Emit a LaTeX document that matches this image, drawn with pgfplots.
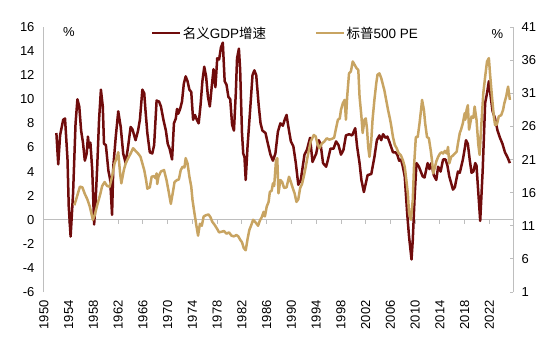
\documentclass[border=0pt]{standalone}
\usepackage{fontspec}
\setmainfont{Liberation Sans}
\newfontfamily\cjk{Noto Sans CJK SC}
\usepackage{pgfplots}
\usepackage{pgfplotstable}
\pgfplotsset{compat=1.18}
\definecolor{gdpc}{RGB}{112,12,12}
\definecolor{pec}{RGB}{200,164,98}
\definecolor{axisgray}{RGB}{190,190,190}

\pgfplotstableread{
year val
1952.0 7.2
1952.3 4.6
1952.6 7.0
1953.1 8.3
1953.4 8.4
1953.8 5.0
1954.0 1.1
1954.3 -1.4
1954.7 2.2
1955.1 8.0
1955.4 10.0
1955.7 9.4
1956.0 7.4
1956.3 6.4
1956.6 4.9
1956.9 5.5
1957.1 6.9
1957.3 6.0
1957.5 6.4
1957.8 4.1
1958.1 -0.4
1958.3 1.1
1958.6 4.4
1958.9 8.3
1959.2 10.8
1959.5 9.4
1959.7 6.3
1960.0 6.2
1960.4 4.1
1960.7 3.3
1961.0 0.4
1961.2 4.4
1961.6 6.9
1962.0 9.0
1962.4 7.7
1962.8 5.5
1963.2 4.7
1963.6 6.1
1964.0 7.7
1964.3 7.5
1964.8 6.6
1965.2 7.4
1965.5 8.3
1965.9 10.8
1966.2 10.5
1966.4 9.1
1966.7 7.2
1967.1 5.6
1967.5 5.5
1967.8 6.2
1968.2 9.9
1968.6 9.8
1968.9 9.4
1969.3 8.3
1969.7 7.4
1970.0 6.3
1970.3 5.9
1970.7 5.0
1971.0 8.0
1971.3 8.4
1971.5 9.2
1971.7 8.8
1972.0 9.2
1972.3 9.8
1972.6 11.3
1972.9 11.9
1973.2 11.5
1973.5 10.8
1973.8 10.6
1974.1 8.3
1974.4 8.7
1974.7 8.3
1975.0 8.0
1975.3 9.5
1975.6 11.5
1975.9 12.7
1976.2 11.9
1976.5 10.2
1976.8 9.4
1977.1 11.0
1977.4 12.5
1977.7 11.0
1978.0 13.4
1978.3 13.3
1978.6 14.3
1978.9 14.7
1979.2 11.5
1979.5 11.2
1979.8 10.2
1980.1 10.0
1980.4 7.9
1980.7 7.4
1981.0 10.5
1981.2 13.4
1981.5 14.2
1981.7 12.5
1982.0 7.2
1982.2 5.5
1982.4 5.2
1982.6 3.3
1982.9 6.1
1983.3 9.0
1983.7 12.0
1984.0 12.4
1984.3 12.0
1984.7 9.5
1985.0 8.0
1985.3 7.4
1985.8 7.2
1986.1 6.5
1986.6 5.4
1987.0 4.9
1987.4 5.5
1987.8 7.3
1988.2 8.0
1988.6 7.8
1988.9 8.3
1989.2 8.7
1989.5 7.7
1989.9 6.5
1990.3 6.1
1990.7 4.7
1991.1 2.9
1991.5 3.3
1992.1 5.4
1992.5 5.8
1993.0 6.8
1993.4 4.8
1994.0 5.5
1994.4 6.6
1994.7 6.3
1995.1 4.7
1995.6 4.4
1995.9 5.0
1996.3 5.9
1996.8 5.9
1997.2 6.5
1997.6 6.2
1998.0 5.4
1998.4 5.8
1998.8 7.0
1999.3 7.1
1999.8 7.0
2000.3 7.6
2000.6 6.1
2001.0 4.7
2001.3 3.3
2001.7 2.3
2002.0 3.0
2002.3 3.7
2002.9 3.8
2003.4 5.2
2003.8 6.6
2004.2 7.0
2004.5 6.6
2004.8 7.1
2005.2 6.8
2005.5 6.9
2005.8 6.5
2006.4 5.6
2006.8 5.6
2007.1 5.4
2007.4 4.9
2007.7 5.0
2008.0 4.4
2008.3 3.6
2008.7 0.5
2009.0 -1.4
2009.4 -3.3
2009.6 -1.7
2009.9 1.9
2010.2 4.7
2010.6 4.4
2011.2 3.6
2011.5 3.5
2012.0 4.7
2012.3 4.2
2012.6 4.7
2013.0 3.7
2013.4 3.3
2013.7 4.4
2014.1 4.0
2014.5 5.0
2014.9 5.0
2015.2 4.5
2015.5 3.6
2016.1 2.5
2016.4 2.7
2016.9 4.0
2017.2 3.9
2017.7 5.0
2018.0 5.9
2018.2 6.6
2018.5 6.3
2018.8 5.0
2019.1 3.9
2019.4 4.0
2019.7 4.7
2019.9 4.5
2020.2 2.2
2020.5 -0.1
2020.9 4.1
2021.3 9.7
2021.6 10.5
2021.9 11.5
2022.2 10.2
2022.5 9.0
2022.9 8.4
2023.3 7.4
2023.7 6.8
2024.1 6.3
2024.5 5.6
2024.9 5.2
2025.3 4.7
}\gdpdata

\pgfplotstableread{
year val
1954.9 14.1
1955.3 15.3
1955.8 16.9
1956.2 16.8
1956.6 15.8
1957.0 15.0
1957.4 13.9
1957.9 11.9
1958.2 12.6
1958.6 14.1
1959.1 15.8
1959.4 17.0
1959.8 17.6
1960.2 17.0
1960.6 16.9
1961.0 18.4
1961.4 20.4
1961.8 21.4
1962.0 22.1
1962.3 18.9
1962.5 17.4
1962.9 19.4
1963.2 20.4
1963.6 21.2
1964.0 21.9
1964.4 22.7
1964.8 22.3
1965.3 21.8
1965.6 21.4
1965.9 20.4
1966.2 19.4
1966.5 17.9
1966.7 16.6
1967.1 16.8
1967.4 18.4
1967.8 18.5
1968.0 18.2
1968.2 18.9
1968.3 17.3
1968.5 18.4
1968.9 19.2
1969.4 19.4
1969.8 17.9
1970.1 16.4
1970.5 14.3
1970.8 15.9
1971.1 17.6
1971.5 17.9
1971.8 18.0
1972.1 19.4
1972.4 19.9
1972.7 19.8
1972.9 21.2
1973.2 20.4
1973.5 18.4
1973.8 16.9
1974.0 14.9
1974.3 13.0
1974.6 11.2
1974.9 9.5
1975.2 11.3
1975.5 11.0
1975.8 12.4
1976.2 12.6
1976.6 12.7
1976.9 12.3
1977.2 11.6
1977.6 11.1
1978.0 10.5
1978.3 10.0
1978.7 10.1
1979.1 10.2
1979.5 9.8
1979.9 10.0
1980.3 9.5
1980.7 9.4
1981.1 9.6
1981.4 9.4
1981.7 8.9
1982.0 8.5
1982.3 7.6
1982.6 7.3
1982.9 9.0
1983.2 10.4
1983.5 11.1
1983.8 11.9
1984.2 11.5
1984.6 11.0
1984.9 11.8
1985.2 12.3
1985.5 13.1
1985.7 12.4
1986.0 13.9
1986.3 14.6
1986.5 16.1
1986.8 16.3
1987.0 17.4
1987.2 17.0
1987.5 20.9
1987.7 21.2
1987.9 15.9
1988.2 17.9
1988.5 17.6
1988.8 16.7
1989.2 16.8
1989.6 18.4
1989.9 17.6
1990.2 16.7
1990.5 15.9
1990.8 14.6
1991.1 15.0
1991.4 16.7
1991.7 17.3
1992.0 18.5
1992.3 19.9
1992.7 21.9
1993.1 23.7
1993.6 24.7
1993.9 24.5
1994.2 23.4
1994.5 22.7
1994.9 23.4
1995.3 23.7
1995.7 24.2
1996.1 24.0
1996.5 24.1
1996.9 24.3
1997.2 25.7
1997.5 27.0
1997.8 27.2
1998.0 28.5
1998.3 29.5
1998.6 30.0
1998.8 27.0
1999.0 30.5
1999.3 34.0
1999.6 34.3
1999.9 35.8
2000.2 35.3
2000.5 34.8
2000.8 34.5
2001.0 30.5
2001.3 27.5
2001.5 25.0
2001.8 27.0
2002.0 27.2
2002.2 25.7
2002.4 22.9
2002.6 21.4
2002.9 23.9
2003.1 27.0
2003.4 30.0
2003.7 32.5
2003.9 33.8
2004.2 34.0
2004.5 33.3
2004.8 32.2
2005.0 31.5
2005.3 30.0
2005.6 28.5
2005.9 27.2
2006.1 26.2
2006.4 24.4
2006.7 23.2
2007.0 22.7
2007.3 22.0
2007.7 21.6
2008.0 20.9
2008.3 19.9
2008.5 18.4
2008.8 15.9
2009.0 12.9
2009.3 11.9
2009.6 14.9
2009.8 19.9
2010.1 24.4
2010.4 24.4
2010.7 26.5
2011.0 29.0
2011.1 30.0
2011.4 28.5
2011.6 26.5
2011.9 24.4
2012.2 24.2
2012.5 22.4
2012.7 20.9
2012.9 18.9
2013.2 19.9
2013.4 20.7
2013.7 21.4
2014.0 21.9
2014.3 22.1
2014.5 21.9
2014.8 22.3
2015.1 21.9
2015.3 22.9
2015.5 20.4
2015.8 21.4
2016.1 21.6
2016.4 21.9
2016.7 22.2
2016.9 23.4
2017.2 25.0
2017.4 25.5
2017.7 26.5
2018.0 28.0
2018.1 27.0
2018.3 28.5
2018.5 29.2
2018.7 25.5
2018.9 26.5
2019.1 27.5
2019.4 27.3
2019.6 29.0
2019.9 27.0
2020.2 23.2
2020.4 21.7
2020.7 26.5
2021.0 31.0
2021.3 33.5
2021.6 35.8
2021.9 36.3
2022.1 33.8
2022.4 30.5
2022.7 27.5
2022.9 26.2
2023.2 26.3
2023.5 27.5
2023.9 27.7
2024.2 28.5
2024.4 29.5
2024.7 30.5
2025.0 32.0
2025.3 30.0
}\pedata

\begin{document}
\begin{tikzpicture}
\pgfplotsset{
  base/.style={
    scale only axis, width=469bp, height=265bp,
    at={(0,0)}, anchor=south west,
    xmin=1950, xmax=2025.8,
    font=\fontsize{13bp}{15bp}\selectfont,
    /pgf/number format/assume math mode=true,
    /pgf/number format/1000 sep={},
  },
  gdp/.style={color=gdpc, line width=2.5bp, line join=round},
  pe/.style={color=pec, line width=2.5bp, line join=round},
}
% zero line with ticks
\begin{axis}[base, ymin=-6, ymax=16,
  axis x line*=middle, hide y axis,
  xtick={1954,1958,...,2022}, xticklabels={},
  tick align=outside, major tick length=4bp,
  x axis line style={draw=axisgray, line width=1bp},
  xtick style={draw=axisgray, line width=1bp}]
\end{axis}
% left axis with GDP
\begin{axis}[base, ymin=-6, ymax=16,
  ytick={-6,-4,...,16},
  axis y line*=left, axis x line*=bottom,
  x axis line style={draw=none},
  y axis line style={draw=axisgray, line width=1bp},
  xtick={1950,1954,...,2022},
  major tick length=0pt,
  xtick style={draw=none}, ytick style={draw=none},
  xticklabel style={rotate=90, anchor=east, yshift=0bp, xshift=-5bp},
  yticklabel style={xshift=-6bp},
  clip=true]
\addplot[gdp] table[x=year,y=val] {\gdpdata};
\node[font=\fontsize{13bp}{15bp}\selectfont] at (rel axis cs:0.053,0.981) {\%};
\node[font=\fontsize{13bp}{15bp}\selectfont] at (rel axis cs:0.967,0.972) {\%};
\end{axis}
% right axis with PE
\begin{axis}[base, ymin=1, ymax=41,
  ytick={1,6,...,41},
  axis y line*=right, axis x line=none,
  y axis line style={draw=axisgray, line width=1bp},
  tick align=inside, major tick length=3.5bp,
  ytick style={draw=axisgray, line width=1bp},
  yticklabel style={xshift=5bp},
  legend columns=2,
  legend image code/.code={\draw (0bp,0bp) -- (28bp,0bp);},
  legend style={draw=none, fill=none, at={(rel axis cs:0.514,0.977)}, anchor=center,
    font=\fontsize{13.5bp}{15bp}\selectfont,
    /tikz/every even column/.append style={column sep=47bp},
    inner sep=0pt, nodes={inner sep=1.5bp}},
  ]
\addlegendimage{gdp}
\addlegendentry{{\cjk 名义}GDP{\cjk 增速}}
\addplot[pe] table[x=year,y=val] {\pedata};
\addlegendentry{{\cjk 标普}500 PE}
\end{axis}
\path (-44bp,-52bp) rectangle (506bp,292bp);
\end{tikzpicture}
\end{document}
